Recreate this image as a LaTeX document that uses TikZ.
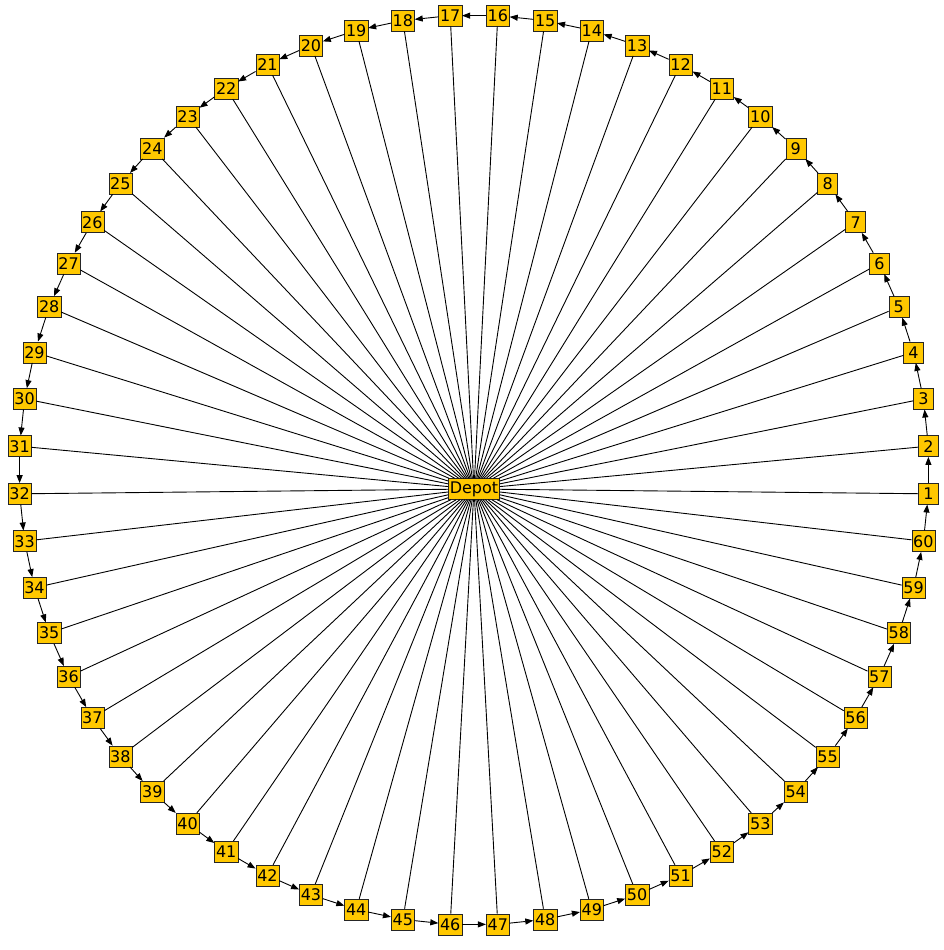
\documentclass[tikz,border=0pt]{standalone}
\usepackage{fontspec}
\setmainfont{DejaVu Sans}
\usepackage{xcolor}
\usepackage{tikz}
\usetikzlibrary{positioning, arrows.meta}
\definecolor{StopYellow}{HTML}{FFC800}

\begin{document}
\begin{tikzpicture}[x=1pt, y=-1pt,
            stopbox/.style={draw=black!85, fill=StopYellow, inner sep=1.5pt, minimum width=20pt, minimum height=21pt, font=\fontsize{16}{16}\selectfont},
            spoke/.style={draw=black, line width=0.9pt},
            hop/.style={draw=black, line width=0.9pt, -{Triangle[length=8pt, width=6pt]}}
        ]
            \useasboundingbox (0,0) rectangle (943,950);

            % depot in the middle
            \node[stopbox] (depot) at (474,489) {Depot};

            % customer stops on the ring
            \foreach \k in {1,...,60} {
                \pgfmathsetmacro{\ang}{(\k-1)*6-3}
                \node[stopbox] (s\k) at ({474+455*cos(\ang)}, {470-455*sin(\ang)}) {\k};
            }

            \foreach \k in {1,...,60}
                \draw[spoke] (depot) -- (s\k);

            \foreach \k [evaluate=\k as \nxt using {int(mod(\k,60)+1)}] in {1,...,60}
                \draw[hop] (s\k) -- (s\nxt);

        \end{tikzpicture}
\end{document}
